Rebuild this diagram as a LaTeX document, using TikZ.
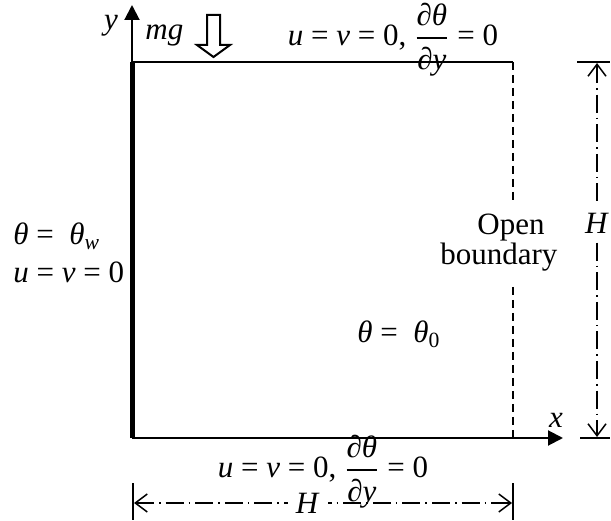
\documentclass[tikz,border=0pt]{standalone}
\usepackage{amsmath}
\usepackage{fontspec}
\setmainfont{Liberation Serif}
\usetikzlibrary{arrows.meta}
\newcommand{\iv}[1]{\textit{#1}}
\newcommand{\dtdy}{$\dfrac{\text{∂\iv{θ}}\rule[-3pt]{0pt}{3pt}}{\rule{0pt}{14pt}\text{∂\iv{y}}}$}

\begin{document}
\begin{tikzpicture}[x=0.5pt,y=0.5pt,font=\fontsize{15.5}{18}\selectfont,
    axis/.style={line width=1pt,-{Triangle[length=7.5pt,width=7.5pt]}},
    dimline/.style={line width=0.75pt,dash pattern=on 9pt off 2.5pt on 0.8pt off 2.5pt,
        {Straight Barb[length=6pt,width=9pt]}-{Straight Barb[length=6pt,width=9pt]}},
    dimlabel/.style={fill=white,inner sep=4pt}]
    \useasboundingbox (0,0) rectangle (611,520);
    \coordinate (O) at (132,82);
    \coordinate (TL) at (132,458);
    \coordinate (TR) at (513,458);
    \coordinate (BR) at (513,82);
    \coordinate (Ymax) at (132,515);
    \coordinate (Xmax) at (563,82);

    \draw[line width=1pt] (TL)--(TR);
    \draw[line width=0.75pt,dash pattern=on 4pt off 2.5pt] (TR)--(513,317) (513,233)--(BR);
    \draw[axis] (O)--(Ymax);
    \draw[axis] (O)--(Xmax);
    \draw[line width=2.5pt] (O)--(TL);

    % load on the top wall
    \draw[line width=1pt] (207,505)--(220,505)--(220,475)--(230,475)--(213.5,463)
        --(197,475)--(207,475)--cycle;

    % dimensions
    \draw[line width=0.9pt] (577,458)--(610,458) (580,82)--(610,82);
    \draw[line width=0.9pt] (133,37)--(133,0) (513,37)--(513,0);
    \draw[dimline] (597,457)--node[pos=0.43,dimlabel] (Hv) {\iv{H}} (597,83);
    \draw[dimline] (134,17)--node[pos=0.46,dimlabel] (Hh) {\iv{H}} (512,17);

    \node (ylab) at (111,490) [anchor=base] {\iv{y}};
    \node (xlab) at (556,92) [anchor=base] {\iv{x}};
    \node (mg) at (145,480) [anchor=base west,inner sep=0pt] {\iv{mg}};
    \node (topbc) at (393,480) {\iv{u} = \iv{v} = 0, \dtdy\ = 0};
    \node (botbc) at (323,48) {\iv{u} = \iv{v} = 0, \dtdy\ = 0};
    \node (wallT) at (13,275) [anchor=base west,inner sep=0pt] {\iv{θ} = \ \iv{θ}$_{\text{\itshape w}}$};
    \node (wallU) at (13,237) [anchor=base west,inner sep=0pt] {\iv{u} = \iv{v} = 0};
    \node (init) at (357,177) [anchor=base west,inner sep=0pt] {\iv{θ} = \ \iv{θ}$_{\text{0}}$};
    \node (open) at (477,285) [anchor=base west,inner sep=0pt] {Open};
    \node (bnd) at (440,255) [anchor=base west,inner sep=0pt] {boundary};
\end{tikzpicture}
\end{document}
